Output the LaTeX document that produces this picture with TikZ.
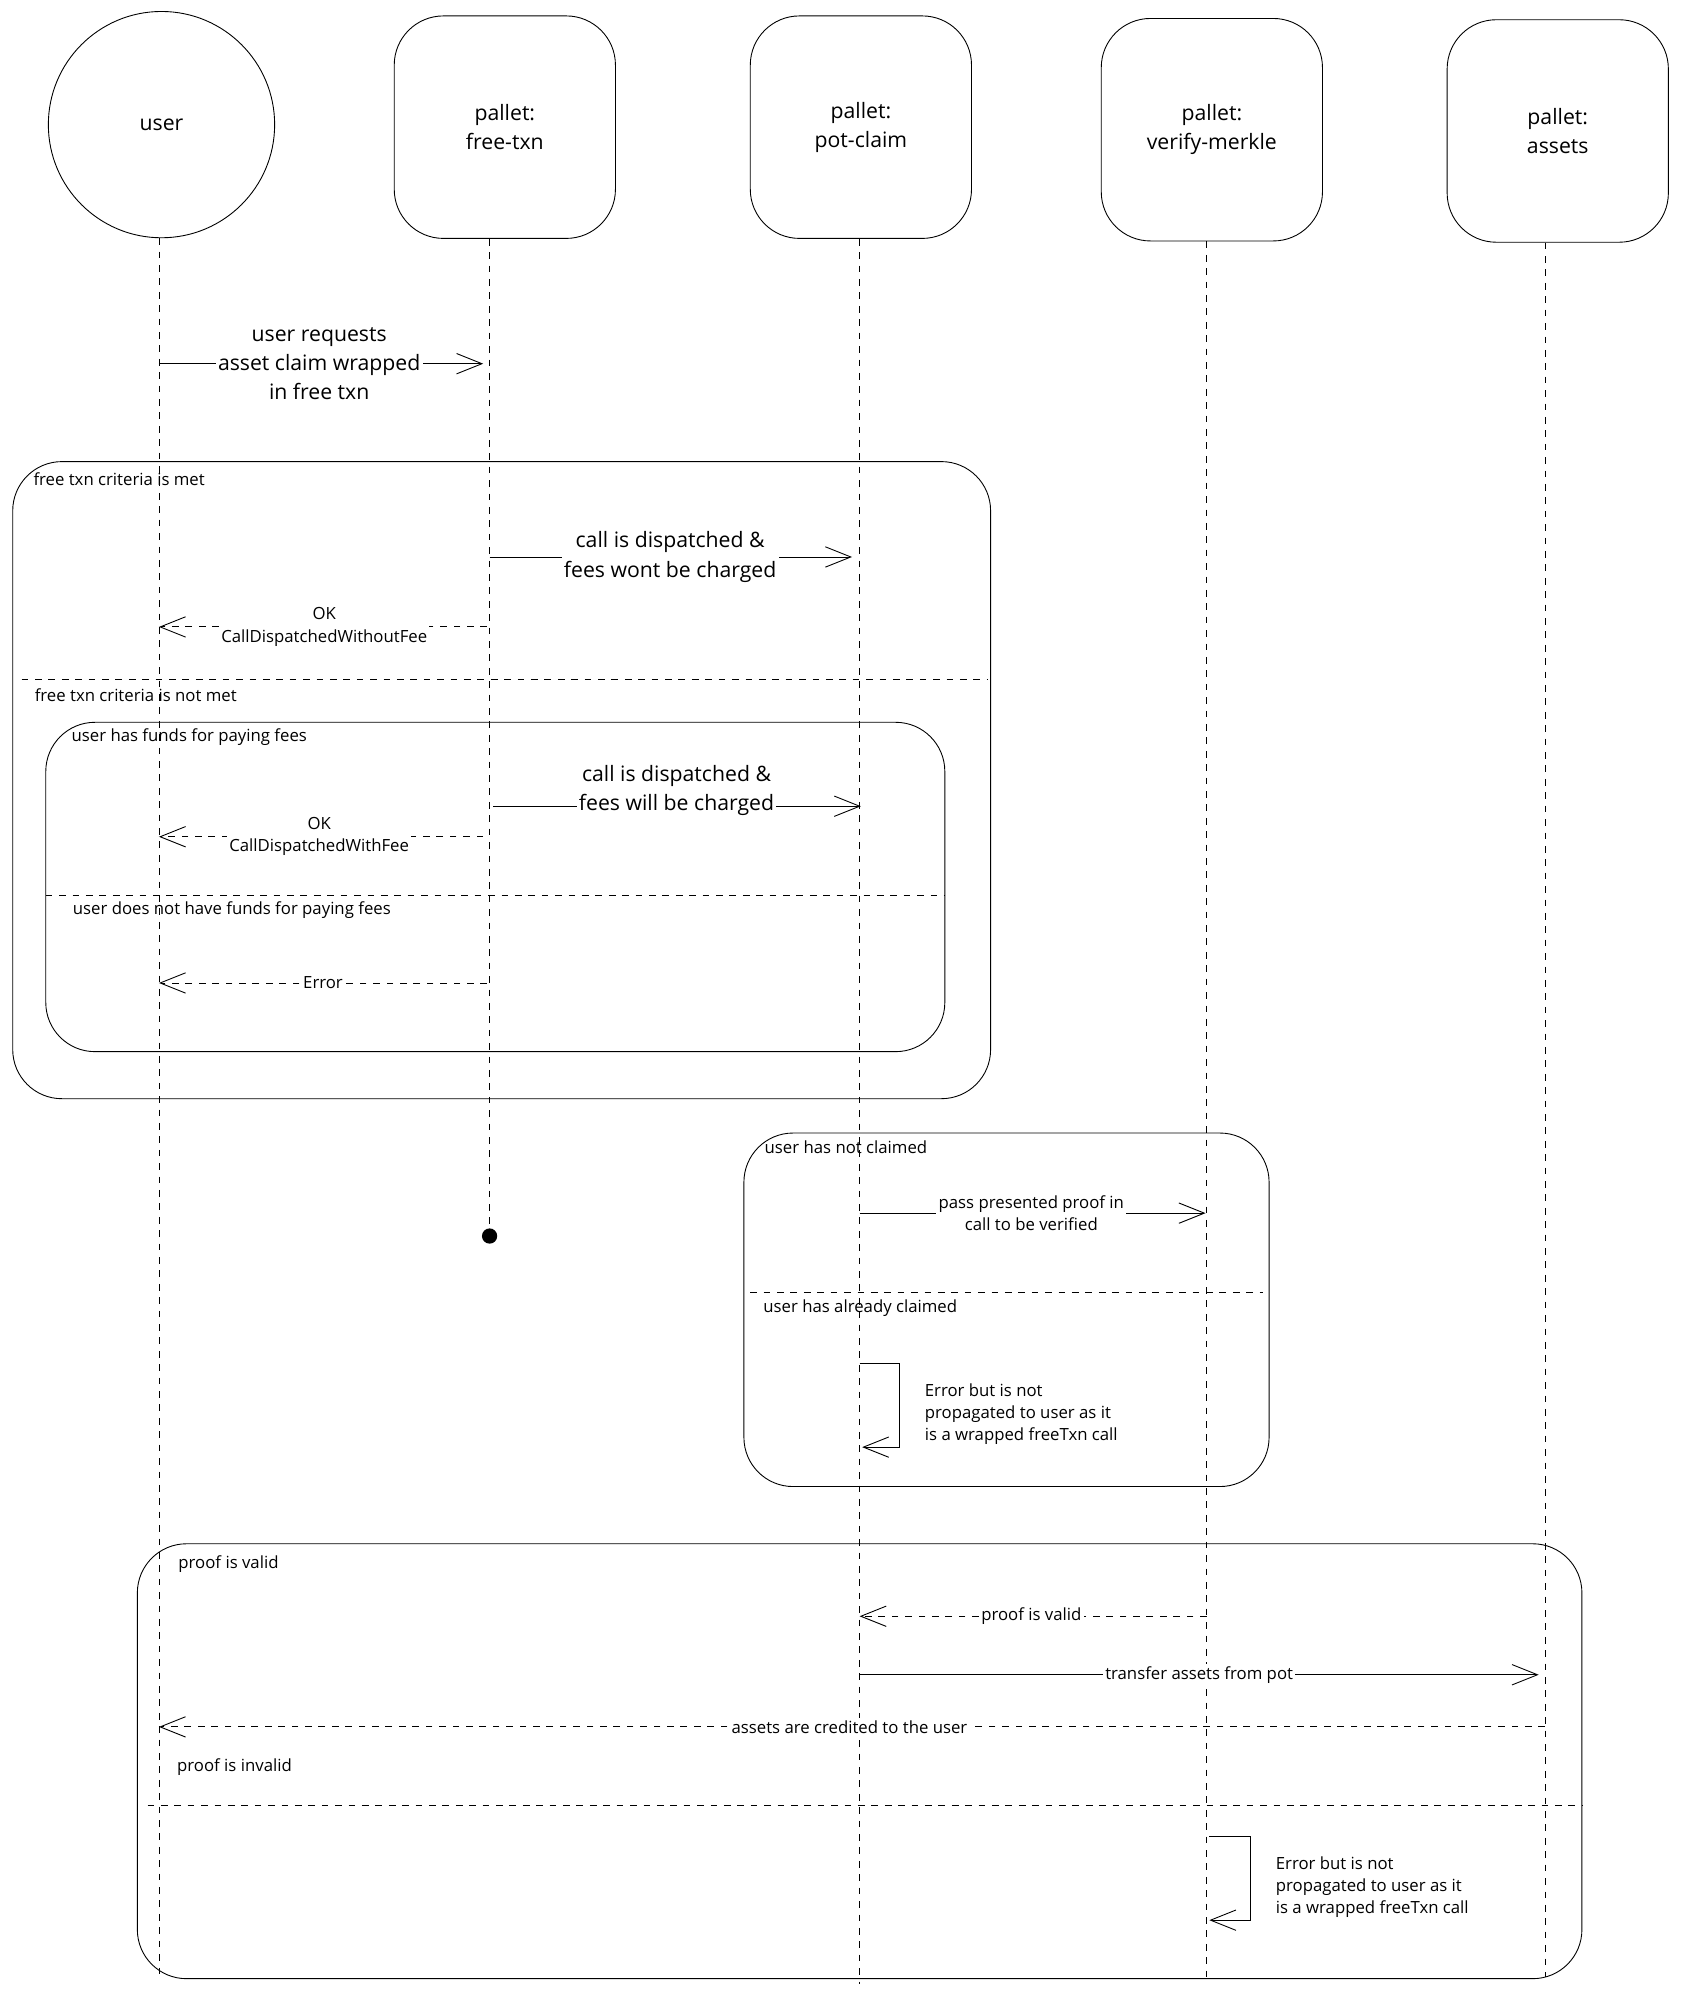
\documentclass[tikz,border=0pt]{standalone}
\usepackage{fontspec}
\setmainfont{Open Sans}
\usetikzlibrary{arrows.meta}

\tikzset{
  head/.style={draw, rounded corners=22, minimum width=3.48cm, minimum height=3.5cm, align=center, font=\fontsize{9.5}{13}\selectfont},
  life/.style={dashed, thin},
  frame/.style={draw, rounded corners=22, thin},
  sep/.style={dashed, thin},
  msg/.style={thin, -{Straight Barb[length=0.4cm, width=0.32cm]}},
  ret/.style={thin, dashed, -{Straight Barb[length=0.4cm, width=0.32cm]}},
  big/.style={fill=white, inner sep=1pt, align=center, font=\fontsize{9.5}{13}\selectfont},
  small/.style={fill=white, inner sep=1pt, align=center, font=\fontsize{7.5}{10}\selectfont},
  note/.style={anchor=west, inner sep=0pt, align=left, font=\fontsize{7.5}{10}\selectfont}
}

\begin{document}
\begin{tikzpicture}[x=0.02cm, y=-0.02cm]
  \useasboundingbox (0,0) rectangle (1325,1572);

  % heads
  \node[draw, circle, minimum size=3.56cm, font=\fontsize{9.5}{13}\selectfont] (user) at (127,98) {user};
  \node[head] (free) at (397,100) {pallet:\\free-txn};
  \node[head] (pot) at (677,100) {pallet:\\pot-claim};
  \node[head] (merkle) at (953,102) {pallet:\\verify-merkle};
  \node[head] (assets) at (1225,103) {pallet:\\assets};

  % lifelines
  \coordinate (userEnd) at (125,1555);
  \coordinate (freeEnd) at (385,972);
  \coordinate (potEnd) at (676,1560);
  \coordinate (merkleEnd) at (949,1555);
  \coordinate (assetsEnd) at (1215,1555);
  \draw[life] (user.south -| userEnd) -- (userEnd);
  \draw[life] (free.south -| freeEnd) -- (freeEnd);
  \fill (freeEnd) circle (6);
  \draw[life] (pot.south -| potEnd) -- (potEnd);
  \draw[life] (merkle.south -| merkleEnd) -- (merkleEnd);
  \draw[life] (assets.south -| assetsEnd) -- (assetsEnd);

  % frames
  \draw[frame] (10,363) rectangle (779,864);
  \draw[sep] (17,534) -- (777,534);
  \node[note] (met) at (26,377) {free txn criteria is met};
  \node[note] (notmet) at (27,547) {free txn criteria is not met};
  \draw[frame] (36,568) rectangle (743,827);
  \draw[sep] (36,704) -- (743,704);
  \node[note] (funds) at (56,580) {user has funds for paying fees};
  \node[note] (nofunds) at (57,716) {user does not have funds for paying fees};
  \draw[frame] (585,891) rectangle (998,1169);
  \draw[sep] (590,1016) -- (993,1016);
  \node[note] (notclaimed) at (601,902) {user has not claimed};
  \node[note] (claimed) at (600,1029) {user has already claimed};
  \draw[frame] (108,1214) rectangle (1244,1556);
  \draw[sep] (116,1420) -- (1244,1420);
  \node[note] (valid) at (140,1230) {proof is valid};
  \node[note] (invalid) at (139,1390) {proof is invalid};

  % messages
  \coordinate (m1a) at (125,286); \coordinate (m1b) at (380,286);
  \draw[msg] (m1a) -- (m1b);
  \node[big] at (251,286) {user requests\\asset claim wrapped\\in free txn};

  \coordinate (m2a) at (385,438); \coordinate (m2b) at (670,438);
  \draw[msg] (m2a) -- (m2b);
  \node[big] at (527,438) {call is dispatched \&\\fees wont be charged};

  \coordinate (m3a) at (383,493); \coordinate (m3b) at (125,493);
  \draw[ret] (m3a) -- (m3b);
  \node[small] at (255,493) {OK\\CallDispatchedWithoutFee};

  \coordinate (m4a) at (388,634); \coordinate (m4b) at (677,634);
  \draw[msg] (m4a) -- (m4b);
  \node[big] at (532,622) {call is dispatched \&\\fees will be charged};

  \coordinate (m5a) at (380,658); \coordinate (m5b) at (125,658);
  \draw[ret] (m5a) -- (m5b);
  \node[small] at (251,658) {OK\\CallDispatchedWithFee};

  \coordinate (m6a) at (383,773); \coordinate (m6b) at (125,773);
  \draw[ret] (m6a) -- (m6b);
  \node[small] at (254,773) {Error};

  \coordinate (m7a) at (676,954); \coordinate (m7b) at (948,954);
  \draw[msg] (m7a) -- (m7b);
  \node[small] at (811,954) {pass presented proof in\\call to be verified};

  \coordinate (s1a) at (676,1072); \coordinate (s1b) at (678,1138);
  \draw[msg] (s1a) -- (707,1072) -- (707,1138) -- (s1b);
  \node[note] at (727,1112) {Error but is not\\propagated to user as it\\is a wrapped freeTxn call};

  \coordinate (m8a) at (949,1271); \coordinate (m8b) at (676,1271);
  \draw[ret] (m8a) -- (m8b);
  \node[small] at (811,1271) {proof is valid};

  \coordinate (m9a) at (676,1317); \coordinate (m9b) at (1210,1317);
  \draw[msg] (m9a) -- (m9b);
  \node[small] at (943,1317) {transfer assets from pot};

  \coordinate (m10a) at (1215,1358); \coordinate (m10b) at (125,1358);
  \draw[ret] (m10a) -- (m10b);
  \node[small] at (668,1358) {assets are credited to the user};

  \coordinate (s2a) at (951,1444); \coordinate (s2b) at (951,1510);
  \draw[msg] (s2a) -- (983,1444) -- (983,1510) -- (s2b);
  \node[note] at (1003,1484) {Error but is not\\propagated to user as it\\is a wrapped freeTxn call};
\end{tikzpicture}
\end{document}
